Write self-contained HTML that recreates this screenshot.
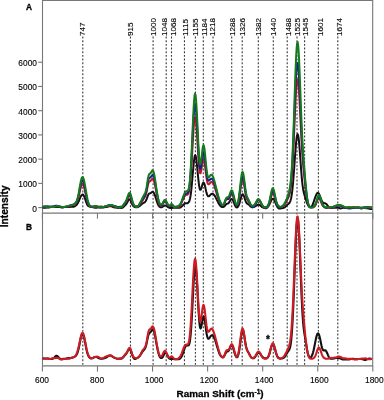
<!DOCTYPE html>
<html><head><meta charset="utf-8"><style>
html,body{margin:0;padding:0;background:#fff;width:384px;height:400px;overflow:hidden}
svg{position:absolute;left:0;top:0;will-change:transform}
text{font-family:"Liberation Sans",sans-serif;fill:#000;stroke:#000;stroke-width:0.12px}
.t{font-size:8.4px}
.l{font-size:8.1px}
.b{font-size:10px;font-weight:bold;stroke-width:0.3px}
.f{stroke:#777;stroke-width:1.1;fill:none}
.d{stroke:#3a3a3a;stroke-width:1.1;stroke-dasharray:1.9 1.7667;fill:none}
.c{fill:none;stroke-width:1.9;stroke-linejoin:round}
</style></head><body>
<svg width="384" height="400" viewBox="0 0 384 400">
<line x1="82.8" y1="36.6" x2="82.8" y2="366" class="d"/>
<line x1="130.45" y1="36.6" x2="130.45" y2="366" class="d"/>
<line x1="153.1" y1="36.6" x2="153.1" y2="366" class="d"/>
<line x1="166.2" y1="36.6" x2="166.2" y2="366" class="d"/>
<line x1="171.5" y1="36.6" x2="171.5" y2="366" class="d"/>
<line x1="184.45" y1="36.6" x2="184.45" y2="366" class="d"/>
<line x1="195.4" y1="36.6" x2="195.4" y2="366" class="d"/>
<line x1="203.3" y1="36.6" x2="203.3" y2="366" class="d"/>
<line x1="213.05" y1="36.6" x2="213.05" y2="366" class="d"/>
<line x1="231.7" y1="36.6" x2="231.7" y2="366" class="d"/>
<line x1="242.2" y1="36.6" x2="242.2" y2="366" class="d"/>
<line x1="258.3" y1="36.6" x2="258.3" y2="366" class="d"/>
<line x1="273.3" y1="36.6" x2="273.3" y2="366" class="d"/>
<line x1="287.2" y1="36.6" x2="287.2" y2="366" class="d"/>
<line x1="297.0" y1="36.6" x2="297.0" y2="366" class="d"/>
<line x1="304.6" y1="36.6" x2="304.6" y2="366" class="d"/>
<line x1="318.4" y1="36.6" x2="318.4" y2="366" class="d"/>
<line x1="337.8" y1="36.6" x2="337.8" y2="366" class="d"/>
<text x="85.1" y="35.9" transform="rotate(-90 85.1 35.9)" class="l">747</text>
<text x="132.8" y="35.9" transform="rotate(-90 132.8 35.9)" class="l">915</text>
<text x="156.10000000000002" y="35.9" transform="rotate(-90 156.10000000000002 35.9)" class="l">1000</text>
<text x="166.70000000000002" y="35.9" transform="rotate(-90 166.70000000000002 35.9)" class="l">1048</text>
<text x="175.70000000000002" y="35.9" transform="rotate(-90 175.70000000000002 35.9)" class="l">1068</text>
<text x="187.8" y="35.9" transform="rotate(-90 187.8 35.9)" class="l">1115</text>
<text x="197.8" y="35.9" transform="rotate(-90 197.8 35.9)" class="l">1155</text>
<text x="206.60000000000002" y="35.9" transform="rotate(-90 206.60000000000002 35.9)" class="l">1184</text>
<text x="215.5" y="35.9" transform="rotate(-90 215.5 35.9)" class="l">1218</text>
<text x="234.8" y="35.9" transform="rotate(-90 234.8 35.9)" class="l">1288</text>
<text x="244.8" y="35.9" transform="rotate(-90 244.8 35.9)" class="l">1326</text>
<text x="260.90000000000003" y="35.9" transform="rotate(-90 260.90000000000003 35.9)" class="l">1382</text>
<text x="275.8" y="35.9" transform="rotate(-90 275.8 35.9)" class="l">1440</text>
<text x="291.5" y="35.9" transform="rotate(-90 291.5 35.9)" class="l">1488</text>
<text x="300.3" y="35.9" transform="rotate(-90 300.3 35.9)" class="l">1525</text>
<text x="307.90000000000003" y="35.9" transform="rotate(-90 307.90000000000003 35.9)" class="l">1545</text>
<text x="323.1" y="35.9" transform="rotate(-90 323.1 35.9)" class="l">1601</text>
<text x="341.90000000000003" y="35.9" transform="rotate(-90 341.90000000000003 35.9)" class="l">1674</text>
<path d="M42.5 0.5H372.7V365.9H42.5Z" class="f"/>
<path d="M42.5 213.1H372.7" class="f"/>
<path d="M38.2 207.60H42.5" class="f"/>
<text x="37.0" y="211.50" class="t" text-anchor="end">0</text>
<path d="M38.2 183.38H42.5" class="f"/>
<text x="37.0" y="187.28" class="t" text-anchor="end">1000</text>
<path d="M38.2 159.15H42.5" class="f"/>
<text x="37.0" y="163.05" class="t" text-anchor="end">2000</text>
<path d="M38.2 134.92H42.5" class="f"/>
<text x="37.0" y="138.82" class="t" text-anchor="end">3000</text>
<path d="M38.2 110.70H42.5" class="f"/>
<text x="37.0" y="114.60" class="t" text-anchor="end">4000</text>
<path d="M38.2 86.47H42.5" class="f"/>
<text x="37.0" y="90.38" class="t" text-anchor="end">5000</text>
<path d="M38.2 62.25H42.5" class="f"/>
<text x="37.0" y="66.15" class="t" text-anchor="end">6000</text>
<path d="M42.40 365.9V371.6" class="f"/>
<path d="M42.40 213.1V218.7" class="f"/>
<text x="42.00" y="382.9" class="t" text-anchor="middle">600</text>
<path d="M97.47 365.9V371.6" class="f"/>
<path d="M97.47 213.1V218.7" class="f"/>
<text x="97.07" y="382.9" class="t" text-anchor="middle">800</text>
<path d="M152.54 365.9V371.6" class="f"/>
<path d="M152.54 213.1V218.7" class="f"/>
<text x="154.04" y="382.9" class="t" text-anchor="middle">1000</text>
<path d="M207.61 365.9V371.6" class="f"/>
<path d="M207.61 213.1V218.7" class="f"/>
<text x="209.11" y="382.9" class="t" text-anchor="middle">1200</text>
<path d="M262.68 365.9V371.6" class="f"/>
<path d="M262.68 213.1V218.7" class="f"/>
<text x="264.18" y="382.9" class="t" text-anchor="middle">1400</text>
<path d="M317.75 365.9V371.6" class="f"/>
<path d="M317.75 213.1V218.7" class="f"/>
<text x="319.25" y="382.9" class="t" text-anchor="middle">1600</text>
<path d="M372.82 365.9V371.6" class="f"/>
<path d="M372.82 213.1V218.7" class="f"/>
<text x="374.32" y="382.9" class="t" text-anchor="middle">1800</text>
<path class="c" stroke="#111111" style="stroke-width:2.0px" d="M42.6 207.70 43.1 207.73 43.6 207.73 44.1 207.73 44.6 207.73 45.1 207.74 45.6 207.73 46.1 207.69 46.6 207.63 47.1 207.58 47.6 207.55 48.1 207.53 48.6 207.51 49.1 207.46 49.6 207.36 50.1 207.23 50.6 207.11 51.1 207.03 51.6 207.00 52.1 207.01 52.6 207.04 53.1 207.07 53.6 207.07 54.1 207.07 54.6 207.07 55.1 207.07 55.6 207.06 56.1 207.04 56.6 207.00 57.1 206.97 57.6 206.97 58.1 207.00 58.6 207.04 59.1 207.07 59.6 207.08 60.1 207.05 60.6 207.03 61.1 207.01 61.6 207.00 62.1 207.00 62.6 206.99 63.1 206.97 63.6 206.95 64.1 206.94 64.6 206.94 65.1 206.96 65.6 206.98 66.1 206.98 66.6 206.98 67.1 206.98 67.6 207.00 68.1 207.01 68.6 207.00 69.1 206.98 69.6 206.93 70.1 206.88 70.6 206.83 71.1 206.79 71.6 206.78 72.1 206.80 72.6 206.84 73.1 206.85 73.6 206.79 74.1 206.63 74.6 206.37 75.1 206.05 75.6 205.69 76.1 205.29 76.6 204.81 77.1 204.23 77.6 203.51 78.1 202.63 78.6 201.59 79.1 200.41 79.6 199.17 80.1 197.96 80.6 196.84 81.1 195.89 81.6 195.15 82.1 194.68 82.6 194.54 83.1 194.76 83.6 195.35 84.1 196.27 84.6 197.48 85.1 198.88 85.6 200.39 86.1 201.89 86.6 203.26 87.1 204.41 87.6 205.26 88.1 205.83 88.6 206.20 89.1 206.44 89.6 206.63 90.1 206.80 90.6 206.94 91.1 207.03 91.6 207.07 92.1 207.09 92.6 207.12 93.1 207.19 93.6 207.32 94.1 207.46 94.6 207.57 95.1 207.65 95.6 207.69 96.1 207.70 96.6 207.67 97.1 207.60 97.6 207.51 98.1 207.43 98.6 207.39 99.1 207.39 99.6 207.42 100.1 207.45 100.6 207.44 101.1 207.43 101.6 207.42 102.1 207.45 102.6 207.49 103.1 207.51 103.6 207.48 104.1 207.37 104.6 207.22 105.1 207.09 105.6 207.02 106.1 206.99 106.6 206.96 107.1 206.89 107.6 206.77 108.1 206.60 108.6 206.42 109.1 206.26 109.6 206.16 110.1 206.12 110.6 206.14 111.1 206.23 111.6 206.38 112.1 206.57 112.6 206.78 113.1 207.00 113.6 207.20 114.1 207.35 114.6 207.46 115.1 207.51 115.6 207.54 116.1 207.59 116.6 207.68 117.1 207.80 117.6 207.94 118.1 208.04 118.6 208.09 119.1 208.09 119.6 208.05 120.1 208.00 120.6 207.97 121.1 207.97 121.6 207.95 122.1 207.86 122.6 207.65 123.1 207.28 123.6 206.80 124.1 206.27 124.6 205.76 125.1 205.27 125.6 204.79 126.1 204.26 126.6 203.59 127.1 202.75 127.6 201.77 128.1 200.76 128.6 199.88 129.1 199.33 129.6 199.23 130.1 199.65 130.6 200.51 131.1 201.67 131.6 202.94 132.1 204.14 132.6 205.15 133.1 205.91 133.6 206.41 134.1 206.73 134.6 206.92 135.1 207.06 135.6 207.18 136.1 207.26 136.6 207.28 137.1 207.23 137.6 207.09 138.1 206.89 138.6 206.63 139.1 206.35 139.6 206.02 140.1 205.65 140.6 205.23 141.1 204.76 141.6 204.28 142.1 203.83 142.6 203.45 143.1 203.14 143.6 202.90 144.1 202.65 144.6 202.34 145.1 201.89 145.6 201.24 146.1 200.34 146.6 199.17 147.1 197.81 147.6 196.39 148.1 195.13 148.6 194.20 149.1 193.64 149.6 193.37 150.1 193.23 150.6 193.04 151.1 192.73 151.6 192.35 152.1 192.01 152.6 191.85 153.1 191.97 153.6 192.43 154.1 193.23 154.6 194.37 155.1 195.78 155.6 197.38 156.1 199.05 156.6 200.69 157.1 202.20 157.6 203.54 158.1 204.67 158.6 205.57 159.1 206.26 159.6 206.75 160.1 207.07 160.6 207.25 161.1 207.30 161.6 207.23 162.1 207.04 162.6 206.75 163.1 206.41 163.6 206.08 164.1 205.79 164.6 205.58 165.1 205.48 165.6 205.50 166.1 205.65 166.6 205.93 167.1 206.31 167.6 206.72 168.1 207.12 168.6 207.46 169.1 207.71 169.6 207.89 170.1 207.99 170.6 208.03 171.1 208.02 171.6 207.97 172.1 207.89 172.6 207.82 173.1 207.78 173.6 207.77 174.1 207.80 174.6 207.84 175.1 207.87 175.6 207.85 176.1 207.79 176.6 207.71 177.1 207.65 177.6 207.64 178.1 207.68 178.6 207.74 179.1 207.78 179.6 207.73 180.1 207.55 180.6 207.26 181.1 206.88 181.6 206.44 182.1 205.99 182.6 205.53 183.1 205.06 183.6 204.59 184.1 204.14 184.6 203.75 185.1 203.46 185.6 203.29 186.1 203.24 186.6 203.25 187.1 203.25 187.6 203.16 188.1 202.90 188.6 202.41 189.1 201.58 189.6 200.27 190.1 198.30 190.6 195.49 191.1 191.76 191.6 187.11 192.1 181.71 192.6 175.83 193.1 169.89 193.6 164.38 194.1 159.80 194.6 156.63 195.1 155.20 195.6 155.64 196.1 157.86 196.6 161.59 197.1 166.37 197.6 171.66 198.1 176.95 198.6 181.73 199.1 185.60 199.6 188.30 200.1 189.69 200.6 189.84 201.1 188.97 201.6 187.44 202.1 185.65 202.6 184.01 203.1 182.89 203.6 182.57 204.1 183.15 204.6 184.57 205.1 186.58 205.6 188.88 206.1 191.14 206.6 193.12 207.1 194.65 207.6 195.67 208.1 196.22 208.6 196.34 209.1 196.14 209.6 195.71 210.1 195.16 210.6 194.62 211.1 194.18 211.6 193.89 212.1 193.78 212.6 193.83 213.1 194.02 213.6 194.35 214.1 194.85 214.6 195.53 215.1 196.37 215.6 197.33 216.1 198.35 216.6 199.39 217.1 200.42 217.6 201.43 218.1 202.41 218.6 203.33 219.1 204.17 219.6 204.93 220.1 205.58 220.6 206.11 221.1 206.51 221.6 206.78 222.1 206.95 222.6 207.03 223.1 207.01 223.6 206.86 224.1 206.57 224.6 206.11 225.1 205.52 225.6 204.89 226.1 204.33 226.6 203.93 227.1 203.72 227.6 203.61 228.1 203.44 228.6 203.08 229.1 202.45 229.6 201.60 230.1 200.67 230.6 199.81 231.1 199.18 231.6 198.92 232.1 199.08 232.6 199.69 233.1 200.67 233.6 201.91 234.1 203.24 234.6 204.52 235.1 205.64 235.6 206.53 236.1 207.12 236.6 207.42 237.1 207.41 237.6 207.11 238.1 206.51 238.6 205.61 239.1 204.39 239.6 202.86 240.1 201.09 240.6 199.20 241.1 197.38 241.6 195.85 242.1 194.78 242.6 194.30 243.1 194.47 243.6 195.25 244.1 196.51 244.6 198.05 245.1 199.65 245.6 201.09 246.1 202.24 246.6 203.05 247.1 203.57 247.6 203.91 248.1 204.18 248.6 204.50 249.1 204.91 249.6 205.41 250.1 205.94 250.6 206.43 251.1 206.81 251.6 207.05 252.1 207.16 252.6 207.16 253.1 207.08 253.6 206.97 254.1 206.81 254.6 206.61 255.1 206.36 255.6 206.07 256.1 205.73 256.6 205.39 257.1 205.05 257.6 204.76 258.1 204.57 258.6 204.53 259.1 204.66 259.6 204.97 260.1 205.39 260.6 205.87 261.1 206.33 261.6 206.73 262.1 207.07 262.6 207.35 263.1 207.57 263.6 207.74 264.1 207.87 264.6 207.99 265.1 208.11 265.6 208.19 266.1 208.18 266.6 208.03 267.1 207.70 267.6 207.22 268.1 206.63 268.6 205.92 269.1 205.09 269.6 204.12 270.1 203.03 270.6 201.87 271.1 200.75 271.6 199.77 272.1 199.06 272.6 198.68 273.1 198.68 273.6 199.07 274.1 199.81 274.6 200.82 275.1 202.00 275.6 203.23 276.1 204.42 276.6 205.51 277.1 206.45 277.6 207.23 278.1 207.82 278.6 208.24 279.1 208.48 279.6 208.58 280.1 208.57 280.6 208.49 281.1 208.38 281.6 208.27 282.1 208.19 282.6 208.13 283.1 208.04 283.6 207.90 284.1 207.69 284.6 207.38 285.1 206.98 285.6 206.50 286.1 205.98 286.6 205.46 287.1 204.99 287.6 204.57 288.1 204.20 288.6 203.81 289.1 203.33 289.6 202.64 290.1 201.65 290.6 200.22 291.1 198.24 291.6 195.57 292.1 192.08 292.6 187.69 293.1 182.39 293.6 176.25 294.1 169.47 294.6 162.33 295.1 155.19 295.6 148.48 296.1 142.61 296.6 138.03 297.1 135.11 297.6 134.10 298.1 135.12 298.6 138.07 299.1 142.72 299.6 148.66 300.1 155.43 300.6 162.50 301.1 169.38 301.6 175.67 302.1 181.08 302.6 185.52 303.1 189.01 303.6 191.71 304.1 193.82 304.6 195.57 305.1 197.15 305.6 198.67 306.1 200.19 306.6 201.67 307.1 203.06 307.6 204.28 308.1 205.30 308.6 206.11 309.1 206.71 309.6 207.10 310.1 207.28 310.6 207.23 311.1 206.96 311.6 206.47 312.1 205.73 312.6 204.73 313.1 203.50 313.6 202.09 314.1 200.61 314.6 199.14 315.1 197.70 315.6 196.34 316.1 195.10 316.6 194.05 317.1 193.29 317.6 192.90 318.1 192.90 318.6 193.31 319.1 194.09 319.6 195.18 320.1 196.50 320.6 197.91 321.1 199.26 321.6 200.44 322.1 201.39 322.6 202.10 323.1 202.62 323.6 202.97 324.1 203.16 324.6 203.27 325.1 203.35 325.6 203.52 326.1 203.83 326.6 204.31 327.1 204.92 327.6 205.59 328.1 206.25 328.6 206.81 329.1 207.25 329.6 207.56 330.1 207.77 330.6 207.91 331.1 208.00 331.6 208.03 332.1 208.01 332.6 207.95 333.1 207.88 333.6 207.84 334.1 207.83 334.6 207.85 335.1 207.86 335.6 207.83 336.1 207.77 336.6 207.70 337.1 207.65 337.6 207.65 338.1 207.72 338.6 207.85 339.1 208.02 339.6 208.19 340.1 208.33 340.6 208.39 341.1 208.36 341.6 208.25 342.1 208.08 342.6 207.90 343.1 207.75 343.6 207.67 344.1 207.65 344.6 207.71 345.1 207.80 345.6 207.90 346.1 208.00 346.6 208.07 347.1 208.14 347.6 208.22 348.1 208.30 348.6 208.37 349.1 208.41 349.6 208.42 350.1 208.40 350.6 208.35 351.1 208.29 351.6 208.22 352.1 208.14 352.6 208.06 353.1 207.99 353.6 207.96 354.1 207.97 354.6 207.98 355.1 207.98 355.6 207.94 356.1 207.86 356.6 207.75 357.1 207.66 357.6 207.60 358.1 207.60 358.6 207.66 359.1 207.78 359.6 207.94 360.1 208.13 360.6 208.30 361.1 208.42 361.6 208.42 362.1 208.32 362.6 208.12 363.1 207.90 363.6 207.73 364.1 207.67 364.6 207.73 365.1 207.89 365.6 208.08 366.1 208.23 366.6 208.30 367.1 208.32 367.6 208.33 368.1 208.38 368.6 208.50 369.1 208.68 369.6 208.86 370.1 208.99 370.6 209.05 371.1 209.01 371.6 208.92 372.1 208.79"/>
<path class="c" stroke="#c41a26" style="stroke-width:2.0px" d="M42.6 206.67 43.1 206.70 43.6 206.74 44.1 206.76 44.6 206.74 45.1 206.69 45.6 206.62 46.1 206.55 46.6 206.51 47.1 206.52 47.6 206.57 48.1 206.66 48.6 206.79 49.1 206.92 49.6 207.01 50.1 207.04 50.6 207.01 51.1 206.96 51.6 206.90 52.1 206.84 52.6 206.78 53.1 206.67 53.6 206.53 54.1 206.37 54.6 206.24 55.1 206.16 55.6 206.13 56.1 206.15 56.6 206.17 57.1 206.20 57.6 206.24 58.1 206.29 58.6 206.38 59.1 206.50 59.6 206.64 60.1 206.78 60.6 206.90 61.1 207.02 61.6 207.12 62.1 207.20 62.6 207.25 63.1 207.26 63.6 207.22 64.1 207.13 64.6 207.02 65.1 206.90 65.6 206.80 66.1 206.72 66.6 206.67 67.1 206.64 67.6 206.62 68.1 206.58 68.6 206.51 69.1 206.39 69.6 206.21 70.1 205.95 70.6 205.65 71.1 205.36 71.6 205.14 72.1 205.04 72.6 205.04 73.1 205.10 73.6 205.12 74.1 205.02 74.6 204.76 75.1 204.30 75.6 203.67 76.1 202.88 76.6 201.93 77.1 200.84 77.6 199.57 78.1 198.10 78.6 196.43 79.1 194.55 79.6 192.52 80.1 190.41 80.6 188.37 81.1 186.55 81.6 185.12 82.1 184.23 82.6 184.00 83.1 184.44 83.6 185.53 84.1 187.15 84.6 189.16 85.1 191.41 85.6 193.77 86.1 196.10 86.6 198.32 87.1 200.32 87.6 202.03 88.1 203.44 88.6 204.53 89.1 205.33 89.6 205.89 90.1 206.25 90.6 206.47 91.1 206.59 91.6 206.69 92.1 206.79 92.6 206.92 93.1 207.07 93.6 207.20 94.1 207.29 94.6 207.31 95.1 207.29 95.6 207.22 96.1 207.14 96.6 207.08 97.1 207.02 97.6 206.98 98.1 206.93 98.6 206.86 99.1 206.74 99.6 206.60 100.1 206.47 100.6 206.39 101.1 206.41 101.6 206.53 102.1 206.70 102.6 206.85 103.1 206.93 103.6 206.92 104.1 206.82 104.6 206.67 105.1 206.50 105.6 206.35 106.1 206.24 106.6 206.15 107.1 206.05 107.6 205.95 108.1 205.83 108.6 205.71 109.1 205.61 109.6 205.55 110.1 205.53 110.6 205.54 111.1 205.58 111.6 205.65 112.1 205.76 112.6 205.93 113.1 206.12 113.6 206.30 114.1 206.44 114.6 206.52 115.1 206.56 115.6 206.60 116.1 206.67 116.6 206.78 117.1 206.91 117.6 207.06 118.1 207.20 118.6 207.35 119.1 207.46 119.6 207.53 120.1 207.51 120.6 207.42 121.1 207.24 121.6 206.97 122.1 206.60 122.6 206.13 123.1 205.55 123.6 204.90 124.1 204.24 124.6 203.61 125.1 203.03 125.6 202.43 126.1 201.71 126.6 200.80 127.1 199.68 127.6 198.43 128.1 197.19 128.6 196.17 129.1 195.57 129.6 195.55 130.1 196.14 130.6 197.26 131.1 198.73 131.6 200.35 132.1 201.93 132.6 203.33 133.1 204.47 133.6 205.31 134.1 205.84 134.6 206.14 135.1 206.26 135.6 206.27 136.1 206.24 136.6 206.17 137.1 206.10 137.6 205.99 138.1 205.83 138.6 205.59 139.1 205.23 139.6 204.76 140.1 204.19 140.6 203.54 141.1 202.85 141.6 202.13 142.1 201.39 142.6 200.62 143.1 199.80 143.6 198.95 144.1 198.11 144.6 197.28 145.1 196.39 145.6 195.31 146.1 193.83 146.6 191.82 147.1 189.36 147.6 186.73 148.1 184.40 148.6 182.73 149.1 181.81 149.6 181.43 150.1 181.21 150.6 180.83 151.1 180.20 151.6 179.46 152.1 178.86 152.6 178.65 153.1 178.99 153.6 179.93 154.1 181.42 154.6 183.41 155.1 185.78 155.6 188.40 156.1 191.14 156.6 193.88 157.1 196.49 157.6 198.87 158.1 200.93 158.6 202.61 159.1 203.90 159.6 204.82 160.1 205.42 160.6 205.73 161.1 205.76 161.6 205.51 162.1 204.99 162.6 204.27 163.1 203.46 163.6 202.69 164.1 202.10 164.6 201.79 165.1 201.80 165.6 202.10 166.1 202.62 166.6 203.26 167.1 203.97 167.6 204.67 168.1 205.32 168.6 205.84 169.1 206.15 169.6 206.19 170.1 205.97 170.6 205.58 171.1 205.22 171.6 205.09 172.1 205.29 172.6 205.76 173.1 206.32 173.6 206.79 174.1 207.08 174.6 207.18 175.1 207.17 175.6 207.12 176.1 207.09 176.6 207.11 177.1 207.20 177.6 207.31 178.1 207.34 178.6 207.23 179.1 206.90 179.6 206.33 180.1 205.56 180.6 204.63 181.1 203.60 181.6 202.50 182.1 201.35 182.6 200.19 183.1 199.06 183.6 198.01 184.1 197.06 184.6 196.26 185.1 195.62 185.6 195.18 186.1 194.94 186.6 194.84 187.1 194.79 187.6 194.61 188.1 194.10 188.6 192.99 189.1 191.03 189.6 188.00 190.1 183.73 190.6 178.12 191.1 171.21 191.6 163.18 192.1 154.36 192.6 145.25 193.1 136.46 193.6 128.67 194.1 122.54 194.6 118.63 195.1 117.31 195.6 118.71 196.1 122.68 196.6 128.80 197.1 136.47 197.6 144.90 198.1 153.29 198.6 160.86 199.1 166.97 199.6 171.16 200.1 173.22 200.6 173.18 201.1 171.37 201.6 168.37 202.1 164.93 202.6 161.87 203.1 159.87 203.6 159.39 204.1 160.56 204.6 163.20 205.1 166.89 205.6 171.06 206.1 175.15 206.6 178.70 207.1 181.41 207.6 183.19 208.1 184.12 208.6 184.36 209.1 184.11 209.6 183.59 210.1 182.97 210.6 182.42 211.1 182.06 211.6 181.97 212.1 182.16 212.6 182.63 213.1 183.35 213.6 184.32 214.1 185.53 214.6 186.95 215.1 188.53 215.6 190.18 216.1 191.83 216.6 193.42 217.1 194.94 217.6 196.41 218.1 197.82 218.6 199.16 219.1 200.39 219.6 201.49 220.1 202.43 220.6 203.23 221.1 203.88 221.6 204.41 222.1 204.81 222.6 205.04 223.1 205.02 223.6 204.65 224.1 203.89 224.6 202.75 225.1 201.40 225.6 200.10 226.1 199.13 226.6 198.68 227.1 198.71 227.6 199.01 228.1 199.24 228.6 199.12 229.1 198.52 229.6 197.50 230.1 196.27 230.6 195.07 231.1 194.14 231.6 193.70 232.1 193.86 232.6 194.67 233.1 196.02 233.6 197.73 234.1 199.54 234.6 201.24 235.1 202.69 235.6 203.83 236.1 204.62 236.6 205.03 237.1 204.97 237.6 204.37 238.1 203.13 238.6 201.20 239.1 198.59 239.6 195.42 240.1 191.86 240.6 188.21 241.1 184.83 241.6 182.07 242.1 180.29 242.6 179.70 243.1 180.39 243.6 182.23 244.1 184.92 244.6 188.08 245.1 191.26 245.6 194.11 246.1 196.43 246.6 198.15 247.1 199.38 247.6 200.28 248.1 201.03 248.6 201.77 249.1 202.54 249.6 203.35 250.1 204.15 250.6 204.87 251.1 205.47 251.6 205.91 252.1 206.16 252.6 206.22 253.1 206.13 253.6 205.89 254.1 205.52 254.6 205.01 255.1 204.36 255.6 203.60 256.1 202.75 256.6 201.88 257.1 201.07 257.6 200.41 258.1 200.00 258.6 199.89 259.1 200.12 259.6 200.65 260.1 201.43 260.6 202.37 261.1 203.35 261.6 204.31 262.1 205.16 262.6 205.89 263.1 206.47 263.6 206.91 264.1 207.21 264.6 207.37 265.1 207.41 265.6 207.35 266.1 207.20 266.6 207.00 267.1 206.72 267.6 206.32 268.1 205.75 268.6 204.93 269.1 203.80 269.6 202.35 270.1 200.63 270.6 198.73 271.1 196.82 271.6 195.10 272.1 193.77 272.6 193.03 273.1 192.99 273.6 193.68 274.1 194.96 274.6 196.63 275.1 198.47 275.6 200.30 276.1 201.97 276.6 203.41 277.1 204.56 277.6 205.43 278.1 206.03 278.6 206.43 279.1 206.68 279.6 206.85 280.1 206.96 280.6 207.01 281.1 206.97 281.6 206.84 282.1 206.63 282.6 206.35 283.1 206.03 283.6 205.66 284.1 205.22 284.6 204.67 285.1 203.99 285.6 203.17 286.1 202.23 286.6 201.21 287.1 200.15 287.6 199.07 288.1 197.98 288.6 196.85 289.1 195.59 289.6 194.05 290.1 192.00 290.6 189.14 291.1 185.21 291.6 179.98 292.1 173.30 292.6 165.16 293.1 155.66 293.6 145.01 294.1 133.59 294.6 121.87 295.1 110.44 295.6 99.95 296.1 91.05 296.6 84.36 297.1 80.35 297.6 79.34 298.1 81.37 298.6 86.26 299.1 93.56 299.6 102.63 300.1 112.72 300.6 123.12 301.1 133.20 301.6 142.49 302.1 150.74 302.6 157.91 303.1 164.14 303.6 169.67 304.1 174.73 304.6 179.52 305.1 184.14 305.6 188.55 306.1 192.67 306.6 196.35 307.1 199.46 307.6 201.95 308.1 203.83 308.6 205.16 309.1 206.05 309.6 206.61 310.1 206.94 310.6 207.12 311.1 207.20 311.6 207.24 312.1 207.25 312.6 207.26 313.1 207.24 313.6 207.14 314.1 206.88 314.6 206.40 315.1 205.69 315.6 204.74 316.1 203.59 316.6 202.30 317.1 200.97 317.6 199.76 318.1 198.85 318.6 198.36 319.1 198.38 319.6 198.88 320.1 199.77 320.6 200.91 321.1 202.16 321.6 203.39 322.1 204.49 322.6 205.39 323.1 206.09 323.6 206.63 324.1 207.08 324.6 207.45 325.1 207.74 325.6 207.91 326.1 207.95 326.6 207.86 327.1 207.68 327.6 207.48 328.1 207.30 328.6 207.19 329.1 207.16 329.6 207.18 330.1 207.25 330.6 207.35 331.1 207.47 331.6 207.62 332.1 207.74 332.6 207.80 333.1 207.76 333.6 207.60 334.1 207.34 334.6 207.04 335.1 206.71 335.6 206.41 336.1 206.14 336.6 205.90 337.1 205.69 337.6 205.52 338.1 205.39 338.6 205.29 339.1 205.24 339.6 205.24 340.1 205.30 340.6 205.43 341.1 205.64 341.6 205.93 342.1 206.26 342.6 206.59 343.1 206.88 343.6 207.11 344.1 207.29 344.6 207.43 345.1 207.53 345.6 207.58 346.1 207.58 346.6 207.52 347.1 207.41 347.6 207.29 348.1 207.20 348.6 207.18 349.1 207.23 349.6 207.30 350.1 207.36 350.6 207.36 351.1 207.32 351.6 207.26 352.1 207.20 352.6 207.16 353.1 207.14 353.6 207.12 354.1 207.11 354.6 207.11 355.1 207.14 355.6 207.21 356.1 207.29 356.6 207.40 357.1 207.49 357.6 207.55 358.1 207.57 358.6 207.55 359.1 207.56 359.6 207.62 360.1 207.72 360.6 207.84 361.1 207.92 361.6 207.94 362.1 207.91 362.6 207.87 363.1 207.83 363.6 207.82 364.1 207.81 364.6 207.78 365.1 207.70 365.6 207.56 366.1 207.38 366.6 207.20 367.1 207.07 367.6 207.02 368.1 207.04 368.6 207.10 369.1 207.15 369.6 207.18 370.1 207.19 370.6 207.21 371.1 207.28 371.6 207.39 372.1 207.55"/>
<path class="c" stroke="#14228a" style="stroke-width:2.0px" d="M42.6 206.62 43.1 206.70 43.6 206.76 44.1 206.78 44.6 206.75 45.1 206.68 45.6 206.60 46.1 206.53 46.6 206.48 47.1 206.47 47.6 206.48 48.1 206.49 48.6 206.49 49.1 206.46 49.6 206.42 50.1 206.39 50.6 206.40 51.1 206.45 51.6 206.52 52.1 206.57 52.6 206.58 53.1 206.51 53.6 206.38 54.1 206.21 54.6 206.02 55.1 205.85 55.6 205.72 56.1 205.66 56.6 205.68 57.1 205.77 57.6 205.91 58.1 206.07 58.6 206.25 59.1 206.45 59.6 206.69 60.1 206.95 60.6 207.22 61.1 207.43 61.6 207.55 62.1 207.56 62.6 207.48 63.1 207.36 63.6 207.23 64.1 207.12 64.6 207.03 65.1 206.95 65.6 206.88 66.1 206.79 66.6 206.69 67.1 206.59 67.6 206.46 68.1 206.32 68.6 206.15 69.1 205.95 69.6 205.74 70.1 205.54 70.6 205.36 71.1 205.21 71.6 205.07 72.1 204.92 72.6 204.75 73.1 204.57 73.6 204.37 74.1 204.14 74.6 203.88 75.1 203.55 75.6 203.10 76.1 202.50 76.6 201.67 77.1 200.55 77.6 199.08 78.1 197.24 78.6 195.06 79.1 192.62 79.6 190.06 80.1 187.52 80.6 185.15 81.1 183.10 81.6 181.52 82.1 180.56 82.6 180.34 83.1 180.90 83.6 182.22 84.1 184.18 84.6 186.60 85.1 189.29 85.6 192.05 86.1 194.74 86.6 197.22 87.1 199.41 87.6 201.25 88.1 202.73 88.6 203.88 89.1 204.75 89.6 205.41 90.1 205.91 90.6 206.30 91.1 206.59 91.6 206.76 92.1 206.81 92.6 206.75 93.1 206.61 93.6 206.43 94.1 206.27 94.6 206.15 95.1 206.11 95.6 206.14 96.1 206.22 96.6 206.35 97.1 206.49 97.6 206.66 98.1 206.82 98.6 206.98 99.1 207.11 99.6 207.21 100.1 207.25 100.6 207.23 101.1 207.17 101.6 207.10 102.1 207.05 102.6 207.04 103.1 207.04 103.6 207.03 104.1 206.98 104.6 206.89 105.1 206.76 105.6 206.61 106.1 206.41 106.6 206.18 107.1 205.92 107.6 205.66 108.1 205.46 108.6 205.32 109.1 205.25 109.6 205.22 110.1 205.21 110.6 205.23 111.1 205.29 111.6 205.40 112.1 205.56 112.6 205.73 113.1 205.88 113.6 205.99 114.1 206.06 114.6 206.11 115.1 206.20 115.6 206.32 116.1 206.50 116.6 206.69 117.1 206.88 117.6 207.00 118.1 207.05 118.6 207.02 119.1 206.95 119.6 206.87 120.1 206.82 120.6 206.80 121.1 206.79 121.6 206.73 122.1 206.56 122.6 206.25 123.1 205.75 123.6 205.10 124.1 204.35 124.6 203.56 125.1 202.78 125.6 202.01 126.1 201.18 126.6 200.20 127.1 199.03 127.6 197.69 128.1 196.35 128.6 195.20 129.1 194.47 129.6 194.32 130.1 194.79 130.6 195.83 131.1 197.28 131.6 198.97 132.1 200.70 132.6 202.30 133.1 203.67 133.6 204.77 134.1 205.61 134.6 206.20 135.1 206.57 135.6 206.77 136.1 206.85 136.6 206.85 137.1 206.78 137.6 206.61 138.1 206.31 138.6 205.84 139.1 205.21 139.6 204.45 140.1 203.59 140.6 202.71 141.1 201.85 141.6 201.03 142.1 200.26 142.6 199.50 143.1 198.73 143.6 197.95 144.1 197.13 144.6 196.24 145.1 195.18 145.6 193.82 146.1 191.99 146.6 189.60 147.1 186.75 147.6 183.76 148.1 181.11 148.6 179.20 149.1 178.14 149.6 177.73 150.1 177.55 150.6 177.23 151.1 176.65 151.6 175.89 152.1 175.24 152.6 174.95 153.1 175.23 153.6 176.14 154.1 177.69 154.6 179.81 155.1 182.40 155.6 185.31 156.1 188.36 156.6 191.38 157.1 194.23 157.6 196.83 158.1 199.12 158.6 201.07 159.1 202.67 159.6 203.91 160.1 204.80 160.6 205.33 161.1 205.50 161.6 205.29 162.1 204.74 162.6 203.95 163.1 203.02 163.6 202.12 164.1 201.41 164.6 200.98 165.1 200.90 165.6 201.17 166.1 201.76 166.6 202.59 167.1 203.54 167.6 204.48 168.1 205.30 168.6 205.90 169.1 206.18 169.6 206.12 170.1 205.74 170.6 205.19 171.1 204.71 171.6 204.51 172.1 204.71 172.6 205.21 173.1 205.81 173.6 206.32 174.1 206.64 174.6 206.78 175.1 206.82 175.6 206.83 176.1 206.82 176.6 206.80 177.1 206.73 177.6 206.61 178.1 206.41 178.6 206.12 179.1 205.75 179.6 205.27 180.1 204.65 180.6 203.88 181.1 202.94 181.6 201.84 182.1 200.63 182.6 199.33 183.1 198.00 183.6 196.73 184.1 195.60 184.6 194.70 185.1 194.09 185.6 193.75 186.1 193.62 186.6 193.58 187.1 193.48 187.6 193.13 188.1 192.35 188.6 190.91 189.1 188.56 189.6 185.04 190.1 180.13 190.6 173.72 191.1 165.84 191.6 156.71 192.1 146.74 192.6 136.45 193.1 126.53 193.6 117.70 194.1 110.70 194.6 106.16 195.1 104.51 195.6 105.93 196.1 110.29 196.6 117.16 197.1 125.85 197.6 135.51 198.1 145.20 198.6 154.01 199.1 161.19 199.6 166.17 200.1 168.70 200.6 168.83 201.1 166.92 201.6 163.60 202.1 159.71 202.6 156.12 203.1 153.62 203.6 152.76 204.1 153.75 204.6 156.45 205.1 160.41 205.6 165.02 206.1 169.62 206.6 173.69 207.1 176.89 207.6 179.07 208.1 180.28 208.6 180.67 209.1 180.50 209.6 180.02 210.1 179.47 210.6 179.00 211.1 178.72 211.6 178.70 212.1 178.97 212.6 179.51 213.1 180.32 213.6 181.38 214.1 182.65 214.6 184.11 215.1 185.71 215.6 187.44 216.1 189.31 216.6 191.28 217.1 193.31 217.6 195.30 218.1 197.14 218.6 198.76 219.1 200.15 219.6 201.34 220.1 202.38 220.6 203.31 221.1 204.11 221.6 204.76 222.1 205.22 222.6 205.41 223.1 205.28 223.6 204.78 224.1 203.90 224.6 202.73 225.1 201.43 225.6 200.22 226.1 199.33 226.6 198.87 227.1 198.81 227.6 198.93 228.1 198.94 228.6 198.59 229.1 197.77 229.6 196.53 230.1 195.08 230.6 193.70 231.1 192.68 231.6 192.25 232.1 192.50 232.6 193.42 233.1 194.91 233.6 196.77 234.1 198.78 234.6 200.72 235.1 202.41 235.6 203.73 236.1 204.63 236.6 205.05 237.1 204.94 237.6 204.22 238.1 202.80 238.6 200.63 239.1 197.73 239.6 194.18 240.1 190.17 240.6 186.03 241.1 182.15 241.6 178.99 242.1 176.96 242.6 176.30 243.1 177.08 243.6 179.14 244.1 182.16 244.6 185.69 245.1 189.24 245.6 192.42 246.1 194.97 246.6 196.84 247.1 198.12 247.6 199.04 248.1 199.83 248.6 200.66 249.1 201.62 249.6 202.69 250.1 203.79 250.6 204.83 251.1 205.72 251.6 206.42 252.1 206.90 252.6 207.15 253.1 207.16 253.6 206.93 254.1 206.46 254.6 205.78 255.1 204.94 255.6 203.99 256.1 203.01 256.6 202.02 257.1 201.11 257.6 200.36 258.1 199.85 258.6 199.68 259.1 199.87 259.6 200.40 260.1 201.20 260.6 202.18 261.1 203.20 261.6 204.19 262.1 205.07 262.6 205.83 263.1 206.44 263.6 206.92 264.1 207.27 264.6 207.50 265.1 207.63 265.6 207.64 266.1 207.53 266.6 207.26 267.1 206.81 267.6 206.19 268.1 205.37 268.6 204.32 269.1 202.98 269.6 201.32 270.1 199.36 270.6 197.22 271.1 195.08 271.6 193.19 272.1 191.78 272.6 191.05 273.1 191.08 273.6 191.86 274.1 193.30 274.6 195.18 275.1 197.29 275.6 199.39 276.1 201.32 276.6 202.97 277.1 204.33 277.6 205.44 278.1 206.31 278.6 206.95 279.1 207.36 279.6 207.55 280.1 207.55 280.6 207.41 281.1 207.17 281.6 206.86 282.1 206.49 282.6 206.05 283.1 205.54 283.6 204.97 284.1 204.34 284.6 203.64 285.1 202.85 285.6 201.97 286.1 201.00 286.6 199.94 287.1 198.83 287.6 197.69 288.1 196.50 288.6 195.18 289.1 193.61 289.6 191.63 290.1 189.03 290.6 185.60 291.1 181.08 291.6 175.22 292.1 167.79 292.6 158.71 293.1 148.04 293.6 136.04 294.1 123.13 294.6 109.86 295.1 96.93 295.6 85.10 296.1 75.16 296.6 67.81 297.1 63.57 297.6 62.70 298.1 65.21 298.6 70.82 299.1 79.03 299.6 89.18 300.1 100.49 300.6 112.19 301.1 123.54 301.6 134.02 302.1 143.31 302.6 151.40 303.1 158.43 303.6 164.68 304.1 170.42 304.6 175.85 305.1 181.10 305.6 186.14 306.1 190.86 306.6 195.09 307.1 198.65 307.6 201.49 308.1 203.63 308.6 205.15 309.1 206.17 309.6 206.79 310.1 207.09 310.6 207.17 311.1 207.11 311.6 206.99 312.1 206.86 312.6 206.72 313.1 206.55 313.6 206.33 314.1 206.02 314.6 205.57 315.1 204.92 315.6 204.00 316.1 202.79 316.6 201.36 317.1 199.85 317.6 198.45 318.1 197.38 318.6 196.80 319.1 196.77 319.6 197.30 320.1 198.26 320.6 199.51 321.1 200.88 321.6 202.24 322.1 203.48 322.6 204.54 323.1 205.40 323.6 206.07 324.1 206.55 324.6 206.91 325.1 207.16 325.6 207.36 326.1 207.50 326.6 207.61 327.1 207.66 327.6 207.67 328.1 207.65 328.6 207.61 329.1 207.58 329.6 207.55 330.1 207.55 330.6 207.56 331.1 207.58 331.6 207.59 332.1 207.53 332.6 207.40 333.1 207.18 333.6 206.91 334.1 206.60 334.6 206.31 335.1 206.07 335.6 205.88 336.1 205.74 336.6 205.63 337.1 205.55 337.6 205.48 338.1 205.45 338.6 205.48 339.1 205.58 339.6 205.71 340.1 205.84 340.6 205.93 341.1 205.98 341.6 206.04 342.1 206.15 342.6 206.35 343.1 206.64 343.6 206.98 344.1 207.34 344.6 207.65 345.1 207.87 345.6 207.98 346.1 207.99 346.6 207.93 347.1 207.85 347.6 207.78 348.1 207.73 348.6 207.73 349.1 207.76 349.6 207.83 350.1 207.90 350.6 207.96 351.1 207.97 351.6 207.94 352.1 207.89 352.6 207.83 353.1 207.81 353.6 207.85 354.1 207.92 354.6 207.99 355.1 207.99 355.6 207.92 356.1 207.78 356.6 207.63 357.1 207.53 357.6 207.51 358.1 207.57 358.6 207.67 359.1 207.78 359.6 207.85 360.1 207.88 360.6 207.87 361.1 207.85 361.6 207.82 362.1 207.80 362.6 207.76 363.1 207.69 363.6 207.58 364.1 207.44 364.6 207.32 365.1 207.27 365.6 207.27 366.1 207.32 366.6 207.35 367.1 207.37 367.6 207.38 368.1 207.39 368.6 207.43 369.1 207.50 369.6 207.58 370.1 207.64 370.6 207.66 371.1 207.63 371.6 207.56 372.1 207.47"/>
<path class="c" stroke="#157a1c" style="stroke-width:2.0px" d="M42.6 206.97 43.1 206.78 43.6 206.61 44.1 206.51 44.6 206.47 45.1 206.51 45.6 206.63 46.1 206.79 46.6 206.96 47.1 207.10 47.6 207.18 48.1 207.21 48.6 207.20 49.1 207.14 49.6 207.07 50.1 206.99 50.6 206.93 51.1 206.91 51.6 206.92 52.1 206.94 52.6 206.96 53.1 206.95 53.6 206.91 54.1 206.82 54.6 206.69 55.1 206.52 55.6 206.33 56.1 206.16 56.6 206.05 57.1 206.02 57.6 206.05 58.1 206.11 58.6 206.16 59.1 206.20 59.6 206.26 60.1 206.36 60.6 206.51 61.1 206.69 61.6 206.88 62.1 207.03 62.6 207.12 63.1 207.15 63.6 207.10 64.1 206.99 64.6 206.84 65.1 206.68 65.6 206.53 66.1 206.41 66.6 206.30 67.1 206.20 67.6 206.09 68.1 205.99 68.6 205.89 69.1 205.78 69.6 205.66 70.1 205.52 70.6 205.39 71.1 205.25 71.6 205.11 72.1 204.96 72.6 204.79 73.1 204.59 73.6 204.37 74.1 204.11 74.6 203.79 75.1 203.40 75.6 202.89 76.1 202.19 76.6 201.24 77.1 199.97 77.6 198.31 78.1 196.24 78.6 193.77 79.1 190.98 79.6 188.01 80.1 185.05 80.6 182.32 81.1 180.01 81.6 178.29 82.1 177.27 82.6 177.02 83.1 177.54 83.6 178.79 84.1 180.67 84.6 183.06 85.1 185.81 85.6 188.76 86.1 191.73 86.6 194.60 87.1 197.26 87.6 199.64 88.1 201.68 88.6 203.33 89.1 204.58 89.6 205.44 90.1 205.96 90.6 206.24 91.1 206.39 91.6 206.48 92.1 206.56 92.6 206.63 93.1 206.66 93.6 206.62 94.1 206.51 94.6 206.33 95.1 206.16 95.6 206.05 96.1 206.04 96.6 206.12 97.1 206.28 97.6 206.46 98.1 206.62 98.6 206.76 99.1 206.88 99.6 206.99 100.1 207.09 100.6 207.19 101.1 207.27 101.6 207.31 102.1 207.29 102.6 207.19 103.1 207.04 103.6 206.83 104.1 206.61 104.6 206.39 105.1 206.22 105.6 206.08 106.1 205.99 106.6 205.92 107.1 205.86 107.6 205.79 108.1 205.71 108.6 205.60 109.1 205.47 109.6 205.30 110.1 205.12 110.6 204.97 111.1 204.88 111.6 204.88 112.1 204.98 112.6 205.15 113.1 205.38 113.6 205.64 114.1 205.91 114.6 206.16 115.1 206.41 115.6 206.66 116.1 206.94 116.6 207.21 117.1 207.45 117.6 207.61 118.1 207.65 118.6 207.62 119.1 207.53 119.6 207.43 120.1 207.32 120.6 207.20 121.1 207.05 121.6 206.85 122.1 206.56 122.6 206.15 123.1 205.59 123.6 204.90 124.1 204.12 124.6 203.32 125.1 202.54 125.6 201.73 126.1 200.82 126.6 199.71 127.1 198.35 127.6 196.81 128.1 195.26 128.6 193.93 129.1 193.05 129.6 192.80 130.1 193.27 130.6 194.40 131.1 196.04 131.6 197.96 132.1 199.95 132.6 201.78 133.1 203.32 133.6 204.50 134.1 205.34 134.6 205.93 135.1 206.36 135.6 206.68 136.1 206.92 136.6 207.03 137.1 206.94 137.6 206.63 138.1 206.10 138.6 205.39 139.1 204.57 139.6 203.68 140.1 202.76 140.6 201.81 141.1 200.84 141.6 199.83 142.1 198.80 142.6 197.76 143.1 196.74 143.6 195.76 144.1 194.82 144.6 193.88 145.1 192.83 145.6 191.49 146.1 189.65 146.6 187.15 147.1 184.07 147.6 180.75 148.1 177.74 148.6 175.53 149.1 174.28 149.6 173.76 150.1 173.50 150.6 173.09 151.1 172.37 151.6 171.48 152.1 170.71 152.6 170.39 153.1 170.75 153.6 171.90 154.1 173.83 154.6 176.44 155.1 179.57 155.6 183.01 156.1 186.53 156.6 189.91 157.1 193.03 157.6 195.82 158.1 198.26 158.6 200.33 159.1 202.01 159.6 203.28 160.1 204.14 160.6 204.61 161.1 204.71 161.6 204.48 162.1 203.95 162.6 203.20 163.1 202.29 163.6 201.35 164.1 200.55 164.6 200.02 165.1 199.91 165.6 200.25 166.1 200.98 166.6 201.98 167.1 203.06 167.6 204.07 168.1 204.88 168.6 205.43 169.1 205.66 169.6 205.57 170.1 205.17 170.6 204.61 171.1 204.14 171.6 204.00 172.1 204.30 172.6 204.96 173.1 205.74 173.6 206.42 174.1 206.88 174.6 207.13 175.1 207.20 175.6 207.14 176.1 206.96 176.6 206.71 177.1 206.46 177.6 206.25 178.1 206.09 178.6 205.92 179.1 205.67 179.6 205.26 180.1 204.63 180.6 203.75 181.1 202.63 181.6 201.31 182.1 199.87 182.6 198.39 183.1 196.93 183.6 195.54 184.1 194.26 184.6 193.15 185.1 192.25 185.6 191.63 186.1 191.28 186.6 191.15 187.1 191.11 187.6 190.94 188.1 190.39 188.6 189.15 189.1 186.88 189.6 183.28 190.1 178.10 190.6 171.18 191.1 162.54 191.6 152.37 192.1 141.12 192.6 129.44 193.1 118.17 193.6 108.19 194.1 100.33 194.6 95.31 195.1 93.59 195.6 95.33 196.1 100.34 196.6 108.10 197.1 117.82 197.6 128.51 198.1 139.16 198.6 148.75 199.1 156.45 199.6 161.65 200.1 164.08 200.6 163.79 201.1 161.21 201.6 157.12 202.1 152.51 202.6 148.42 203.1 145.75 203.6 145.06 204.1 146.49 204.6 149.82 205.1 154.51 205.6 159.86 206.1 165.16 206.6 169.83 207.1 173.48 207.6 175.92 208.1 177.21 208.6 177.53 209.1 177.19 209.6 176.49 210.1 175.73 210.6 175.12 211.1 174.79 211.6 174.80 212.1 175.16 212.6 175.88 213.1 176.95 213.6 178.33 214.1 179.98 214.6 181.82 215.1 183.79 215.6 185.79 216.1 187.78 216.6 189.72 217.1 191.61 217.6 193.48 218.1 195.29 218.6 197.03 219.1 198.64 219.6 200.10 220.1 201.39 220.6 202.52 221.1 203.47 221.6 204.23 222.1 204.75 222.6 204.99 223.1 204.90 223.6 204.44 224.1 203.58 224.6 202.37 225.1 200.94 225.6 199.49 226.1 198.30 226.6 197.55 227.1 197.26 227.6 197.24 228.1 197.17 228.6 196.77 229.1 195.90 229.6 194.62 230.1 193.13 230.6 191.73 231.1 190.70 231.6 190.26 232.1 190.54 232.6 191.55 233.1 193.19 233.6 195.26 234.1 197.50 234.6 199.65 235.1 201.53 235.6 203.04 236.1 204.08 236.6 204.56 237.1 204.38 237.6 203.43 238.1 201.67 238.6 199.07 239.1 195.69 239.6 191.64 240.1 187.15 240.6 182.53 241.1 178.25 241.6 174.79 242.1 172.57 242.6 171.89 243.1 172.82 243.6 175.19 244.1 178.64 244.6 182.66 245.1 186.71 245.6 190.34 246.1 193.27 246.6 195.44 247.1 196.97 247.6 198.07 248.1 199.01 248.6 199.98 249.1 201.06 249.6 202.20 250.1 203.32 250.6 204.29 251.1 205.04 251.6 205.54 252.1 205.81 252.6 205.86 253.1 205.75 253.6 205.50 254.1 205.11 254.6 204.59 255.1 203.92 255.6 203.09 256.1 202.13 256.6 201.12 257.1 200.19 257.6 199.49 258.1 199.13 258.6 199.13 259.1 199.49 259.6 200.14 260.1 201.00 260.6 201.99 261.1 203.04 261.6 204.07 262.1 205.00 262.6 205.80 263.1 206.43 263.6 206.88 264.1 207.17 264.6 207.33 265.1 207.40 265.6 207.42 266.1 207.37 266.6 207.20 267.1 206.86 267.6 206.28 268.1 205.38 268.6 204.11 269.1 202.45 269.6 200.39 270.1 198.03 270.6 195.49 271.1 193.01 271.6 190.82 272.1 189.19 272.6 188.34 273.1 188.41 273.6 189.38 274.1 191.14 274.6 193.45 275.1 196.01 275.6 198.53 276.1 200.77 276.6 202.58 277.1 203.92 277.6 204.87 278.1 205.54 278.6 206.04 279.1 206.43 279.6 206.71 280.1 206.87 280.6 206.87 281.1 206.74 281.6 206.50 282.1 206.20 282.6 205.84 283.1 205.42 283.6 204.90 284.1 204.24 284.6 203.44 285.1 202.50 285.6 201.47 286.1 200.34 286.6 199.13 287.1 197.82 287.6 196.44 288.1 194.97 288.6 193.39 289.1 191.57 289.6 189.33 290.1 186.43 290.6 182.60 291.1 177.56 291.6 171.04 292.1 162.81 292.6 152.73 293.1 140.82 293.6 127.31 294.1 112.64 294.6 97.47 295.1 82.59 295.6 68.89 296.1 57.27 296.6 48.54 297.1 43.32 297.6 41.99 298.1 44.59 298.6 50.85 299.1 60.22 299.6 71.89 300.1 84.94 300.6 98.42 301.1 111.52 301.6 123.65 302.1 134.47 302.6 143.88 303.1 152.04 303.6 159.23 304.1 165.78 304.6 171.93 305.1 177.84 305.6 183.47 306.1 188.73 306.6 193.45 307.1 197.49 307.6 200.77 308.1 203.28 308.6 205.06 309.1 206.24 309.6 206.96 310.1 207.36 310.6 207.58 311.1 207.68 311.6 207.71 312.1 207.66 312.6 207.52 313.1 207.29 313.6 206.95 314.1 206.49 314.6 205.89 315.1 205.07 315.6 203.99 316.1 202.62 316.6 201.00 317.1 199.24 317.6 197.54 318.1 196.12 318.6 195.23 319.1 195.04 319.6 195.58 320.1 196.77 320.6 198.38 321.1 200.17 321.6 201.91 322.1 203.44 322.6 204.70 323.1 205.63 323.6 206.27 324.1 206.66 324.6 206.88 325.1 207.00 325.6 207.08 326.1 207.15 326.6 207.21 327.1 207.24 327.6 207.26 328.1 207.27 328.6 207.30 329.1 207.36 329.6 207.42 330.1 207.46 330.6 207.43 331.1 207.33 331.6 207.18 332.1 207.02 332.6 206.86 333.1 206.72 333.6 206.59 334.1 206.47 334.6 206.32 335.1 206.13 335.6 205.91 336.1 205.66 336.6 205.42 337.1 205.22 337.6 205.07 338.1 204.98 338.6 204.94 339.1 204.94 339.6 204.98 340.1 205.06 340.6 205.18 341.1 205.33 341.6 205.50 342.1 205.68 342.6 205.90 343.1 206.14 343.6 206.40 344.1 206.65 344.6 206.88 345.1 207.09 345.6 207.28 346.1 207.44 346.6 207.55 347.1 207.59 347.6 207.55 348.1 207.45 348.6 207.34 349.1 207.26 349.6 207.24 350.1 207.30 350.6 207.40 351.1 207.51 351.6 207.58 352.1 207.61 352.6 207.59 353.1 207.54 353.6 207.49 354.1 207.46 354.6 207.46 355.1 207.51 355.6 207.57 356.1 207.64 356.6 207.67 357.1 207.65 357.6 207.60 358.1 207.55 358.6 207.54 359.1 207.59 359.6 207.68 360.1 207.77 360.6 207.83 361.1 207.83 361.6 207.80 362.1 207.77 362.6 207.77 363.1 207.80 363.6 207.85 364.1 207.87 364.6 207.84 365.1 207.75 365.6 207.62 366.1 207.50 366.6 207.42 367.1 207.37 367.6 207.34 368.1 207.31 368.6 207.28 369.1 207.28 369.6 207.31 370.1 207.40 370.6 207.52 371.1 207.63 371.6 207.71 372.1 207.73"/>
<path class="c" stroke="#111111" style="stroke-width:2.1px" d="M42.6 358.18 43.1 358.28 43.6 358.40 44.1 358.49 44.6 358.52 45.1 358.51 45.6 358.49 46.1 358.48 46.6 358.48 47.1 358.50 47.6 358.52 48.1 358.57 48.6 358.64 49.1 358.75 49.6 358.86 50.1 358.95 50.6 359.01 51.1 359.02 51.6 358.98 52.1 358.88 52.6 358.71 53.1 358.47 53.6 358.13 54.1 357.69 54.6 357.17 55.1 356.62 55.6 356.15 56.1 355.83 56.6 355.74 57.1 355.89 57.6 356.26 58.1 356.77 58.6 357.36 59.1 357.93 59.6 358.43 60.1 358.82 60.6 359.08 61.1 359.20 61.6 359.21 62.1 359.13 62.6 359.00 63.1 358.87 63.6 358.77 64.1 358.72 64.6 358.72 65.1 358.73 65.6 358.70 66.1 358.62 66.6 358.49 67.1 358.33 67.6 358.21 68.1 358.15 68.6 358.15 69.1 358.17 69.6 358.18 70.1 358.14 70.6 358.05 71.1 357.93 71.6 357.80 72.1 357.66 72.6 357.50 73.1 357.31 73.6 357.09 74.1 356.85 74.6 356.59 75.1 356.29 75.6 355.93 76.1 355.44 76.6 354.74 77.1 353.76 77.6 352.45 78.1 350.78 78.6 348.76 79.1 346.46 79.6 343.94 80.1 341.33 80.6 338.83 81.1 336.63 81.6 334.97 82.1 334.02 82.6 333.88 83.1 334.52 83.6 335.87 84.1 337.76 84.6 340.05 85.1 342.57 85.6 345.17 86.1 347.72 86.6 350.08 87.1 352.16 87.6 353.89 88.1 355.26 88.6 356.29 89.1 357.05 89.6 357.60 90.1 357.98 90.6 358.24 91.1 358.39 91.6 358.42 92.1 358.33 92.6 358.12 93.1 357.84 93.6 357.54 94.1 357.26 94.6 357.06 95.1 356.95 95.6 356.93 96.1 356.98 96.6 357.10 97.1 357.27 97.6 357.48 98.1 357.72 98.6 357.97 99.1 358.22 99.6 358.44 100.1 358.61 100.6 358.70 101.1 358.74 101.6 358.73 102.1 358.70 102.6 358.64 103.1 358.55 103.6 358.43 104.1 358.29 104.6 358.16 105.1 358.03 105.6 357.87 106.1 357.65 106.6 357.34 107.1 356.97 107.6 356.57 108.1 356.19 108.6 355.86 109.1 355.62 109.6 355.48 110.1 355.45 110.6 355.54 111.1 355.74 111.6 356.03 112.1 356.35 112.6 356.69 113.1 357.00 113.6 357.28 114.1 357.51 114.6 357.72 115.1 357.93 115.6 358.15 116.1 358.36 116.6 358.55 117.1 358.68 117.6 358.74 118.1 358.76 118.6 358.75 119.1 358.75 119.6 358.76 120.1 358.79 120.6 358.80 121.1 358.75 121.6 358.59 122.1 358.30 122.6 357.87 123.1 357.33 123.6 356.73 124.1 356.13 124.6 355.58 125.1 355.07 125.6 354.56 126.1 353.96 126.6 353.20 127.1 352.28 127.6 351.26 128.1 350.27 128.6 349.46 129.1 349.00 129.6 348.98 130.1 349.47 130.6 350.40 131.1 351.66 131.6 353.09 132.1 354.54 132.6 355.90 133.1 357.06 133.6 357.97 134.1 358.57 134.6 358.88 135.1 358.93 135.6 358.80 136.1 358.59 136.6 358.34 137.1 358.07 137.6 357.76 138.1 357.38 138.6 356.95 139.1 356.47 139.6 355.95 140.1 355.37 140.6 354.69 141.1 353.92 141.6 353.10 142.1 352.28 142.6 351.53 143.1 350.86 143.6 350.28 144.1 349.73 144.6 349.10 145.1 348.26 145.6 347.07 146.1 345.44 146.6 343.34 147.1 340.91 147.6 338.42 148.1 336.21 148.6 334.54 149.1 333.49 149.6 332.90 150.1 332.49 150.6 331.99 151.1 331.28 151.6 330.45 152.1 329.72 152.6 329.34 153.1 329.52 153.6 330.34 154.1 331.81 154.6 333.82 155.1 336.22 155.6 338.86 156.1 341.61 156.6 344.36 157.1 347.04 157.6 349.56 158.1 351.83 158.6 353.76 159.1 355.30 159.6 356.46 160.1 357.29 160.6 357.81 161.1 358.06 161.6 358.03 162.1 357.71 162.6 357.12 163.1 356.27 163.6 355.26 164.1 354.22 164.6 353.32 165.1 352.75 165.6 352.61 166.1 352.92 166.6 353.63 167.1 354.62 167.6 355.73 168.1 356.80 168.6 357.70 169.1 358.34 169.6 358.70 170.1 358.84 170.6 358.85 171.1 358.81 171.6 358.78 172.1 358.79 172.6 358.83 173.1 358.92 173.6 359.03 174.1 359.15 174.6 359.26 175.1 359.32 175.6 359.32 176.1 359.26 176.6 359.20 177.1 359.17 177.6 359.19 178.1 359.23 178.6 359.23 179.1 359.13 179.6 358.89 180.1 358.49 180.6 357.95 181.1 357.28 181.6 356.45 182.1 355.45 182.6 354.25 183.1 352.87 183.6 351.37 184.1 349.86 184.6 348.45 185.1 347.22 185.6 346.25 186.1 345.59 186.6 345.27 187.1 345.25 187.6 345.42 188.1 345.56 188.6 345.37 189.1 344.54 189.6 342.74 190.1 339.68 190.6 335.14 191.1 329.02 191.6 321.36 192.1 312.38 192.6 302.53 193.1 292.46 193.6 282.97 194.1 274.94 194.6 269.20 195.1 266.36 195.6 266.75 196.1 270.29 196.6 276.56 197.1 284.81 197.6 294.13 198.1 303.57 198.6 312.26 199.1 319.46 199.6 324.68 200.1 327.67 200.6 328.47 201.1 327.40 201.6 325.00 202.1 321.99 202.6 319.12 203.1 317.06 203.6 316.31 204.1 317.07 204.6 319.26 205.1 322.55 205.6 326.40 206.1 330.24 206.6 333.59 207.1 336.14 207.6 337.81 208.1 338.65 208.6 338.81 209.1 338.46 209.6 337.81 210.1 337.02 210.6 336.26 211.1 335.68 211.6 335.34 212.1 335.28 212.6 335.50 213.1 335.95 213.6 336.61 214.1 337.47 214.6 338.56 215.1 339.88 215.6 341.42 216.1 343.12 216.6 344.88 217.1 346.62 217.6 348.29 218.1 349.87 218.6 351.37 219.1 352.76 219.6 354.00 220.1 355.01 220.6 355.79 221.1 356.36 221.6 356.76 222.1 357.03 222.6 357.16 223.1 357.10 223.6 356.81 224.1 356.23 224.6 355.37 225.1 354.32 225.6 353.26 226.1 352.37 226.6 351.78 227.1 351.51 227.6 351.39 228.1 351.22 228.6 350.80 229.1 350.04 229.6 348.94 230.1 347.65 230.6 346.41 231.1 345.47 231.6 345.06 232.1 345.32 232.6 346.24 233.1 347.69 233.6 349.46 234.1 351.31 234.6 353.06 235.1 354.58 235.6 355.79 236.1 356.65 236.6 357.12 237.1 357.14 237.6 356.64 238.1 355.54 238.6 353.75 239.1 351.27 239.6 348.16 240.1 344.56 240.6 340.71 241.1 336.94 241.6 333.65 242.1 331.26 242.6 330.11 243.1 330.37 243.6 331.98 244.1 334.64 244.6 337.89 245.1 341.24 245.6 344.30 246.1 346.82 246.6 348.72 247.1 350.09 247.6 351.10 248.1 351.95 248.6 352.78 249.1 353.69 249.6 354.66 250.1 355.64 250.6 356.53 251.1 357.26 251.6 357.78 252.1 358.12 252.6 358.30 253.1 358.34 253.6 358.25 254.1 358.00 254.6 357.57 255.1 356.97 255.6 356.23 256.1 355.41 256.6 354.59 257.1 353.83 257.6 353.21 258.1 352.79 258.6 352.63 259.1 352.74 259.6 353.12 260.1 353.71 260.6 354.41 261.1 355.14 261.6 355.84 262.1 356.47 262.6 357.01 263.1 357.47 263.6 357.83 264.1 358.09 264.6 358.24 265.1 358.30 265.6 358.30 266.1 358.24 266.6 358.12 267.1 357.90 267.6 357.52 268.1 356.89 268.6 355.96 269.1 354.69 269.6 353.10 270.1 351.28 270.6 349.37 271.1 347.56 271.6 346.01 272.1 344.90 272.6 344.34 273.1 344.42 273.6 345.12 274.1 346.33 274.6 347.90 275.1 349.66 275.6 351.46 276.1 353.18 276.6 354.72 277.1 356.00 277.6 356.96 278.1 357.62 278.6 358.05 279.1 358.30 279.6 358.45 280.1 358.54 280.6 358.58 281.1 358.58 281.6 358.53 282.1 358.44 282.6 358.30 283.1 358.12 283.6 357.87 284.1 357.50 284.6 356.95 285.1 356.23 285.6 355.40 286.1 354.52 286.6 353.66 287.1 352.87 287.6 352.13 288.1 351.45 288.6 350.77 289.1 349.99 289.6 348.92 290.1 347.28 290.6 344.76 291.1 341.07 291.6 335.95 292.1 329.22 292.6 320.77 293.1 310.60 293.6 298.88 294.1 285.93 294.6 272.28 295.1 258.61 295.6 245.75 296.1 234.58 296.6 225.94 297.1 220.52 297.6 218.76 298.1 220.78 298.6 226.37 299.1 235.05 299.6 246.11 300.1 258.68 300.6 271.85 301.1 284.75 301.6 296.66 302.1 307.03 302.6 315.60 303.1 322.36 303.6 327.55 304.1 331.57 304.6 334.88 305.1 337.90 305.6 340.87 306.1 343.90 306.6 346.90 307.1 349.74 307.6 352.25 308.1 354.29 308.6 355.80 309.1 356.82 309.6 357.39 310.1 357.59 310.6 357.48 311.1 357.07 311.6 356.35 312.1 355.31 312.6 353.93 313.1 352.22 313.6 350.20 314.1 347.91 314.6 345.43 315.1 342.87 315.6 340.38 316.1 338.07 316.6 336.08 317.1 334.55 317.6 333.61 318.1 333.35 318.6 333.80 319.1 334.93 319.6 336.65 320.1 338.82 320.6 341.24 321.1 343.69 321.6 345.97 322.1 347.87 322.6 349.27 323.1 350.11 323.6 350.45 324.1 350.44 324.6 350.30 325.1 350.26 325.6 350.50 326.1 351.07 326.6 351.94 327.1 353.01 327.6 354.19 328.1 355.36 328.6 356.44 329.1 357.35 329.6 358.05 330.1 358.52 330.6 358.75 331.1 358.82 331.6 358.79 332.1 358.73 332.6 358.67 333.1 358.62 333.6 358.55 334.1 358.45 334.6 358.32 335.1 358.17 335.6 358.05 336.1 357.99 336.6 358.00 337.1 358.07 337.6 358.14 338.1 358.19 338.6 358.19 339.1 358.18 339.6 358.20 340.1 358.30 340.6 358.49 341.1 358.76 341.6 359.03 342.1 359.25 342.6 359.37 343.1 359.41 343.6 359.40 344.1 359.39 344.6 359.41 345.1 359.45 345.6 359.51 346.1 359.55 346.6 359.56 347.1 359.55 347.6 359.53 348.1 359.49 348.6 359.44 349.1 359.36 349.6 359.28 350.1 359.21 350.6 359.15 351.1 359.08 351.6 358.99 352.1 358.90 352.6 358.83 353.1 358.81 353.6 358.85 354.1 358.95 354.6 359.07 355.1 359.19 355.6 359.26 356.1 359.29 356.6 359.27 357.1 359.21 357.6 359.12 358.1 359.04 358.6 358.98 359.1 358.96 359.6 358.97 360.1 358.99 360.6 359.01 361.1 359.03 361.6 359.06 362.1 359.13 362.6 359.24 363.1 359.40 363.6 359.59 364.1 359.78 364.6 359.90 365.1 359.93 365.6 359.85 366.1 359.70 366.6 359.50 367.1 359.29 367.6 359.09 368.1 358.91 368.6 358.75 369.1 358.64 369.6 358.58 370.1 358.60 370.6 358.68 371.1 358.81 371.6 358.93 372.1 359.01"/>
<path class="c" stroke="#cc1c24" style="stroke-width:2.1px" d="M42.6 358.81 43.1 358.76 43.6 358.72 44.1 358.70 44.6 358.70 45.1 358.69 45.6 358.68 46.1 358.65 46.6 358.62 47.1 358.60 47.6 358.61 48.1 358.69 48.6 358.81 49.1 358.94 49.6 359.02 50.1 359.00 50.6 358.88 51.1 358.69 51.6 358.50 52.1 358.34 52.6 358.24 53.1 358.17 53.6 358.13 54.1 358.11 54.6 358.10 55.1 358.09 55.6 358.04 56.1 357.96 56.6 357.86 57.1 357.81 57.6 357.84 58.1 357.98 58.6 358.23 59.1 358.55 59.6 358.88 60.1 359.17 60.6 359.36 61.1 359.43 61.6 359.40 62.1 359.29 62.6 359.19 63.1 359.11 63.6 359.06 64.1 359.03 64.6 358.98 65.1 358.92 65.6 358.86 66.1 358.82 66.6 358.80 67.1 358.80 67.6 358.79 68.1 358.76 68.6 358.71 69.1 358.63 69.6 358.51 70.1 358.35 70.6 358.15 71.1 357.93 71.6 357.75 72.1 357.61 72.6 357.52 73.1 357.43 73.6 357.30 74.1 357.07 74.6 356.73 75.1 356.24 75.6 355.59 76.1 354.77 76.6 353.74 77.1 352.47 77.6 350.95 78.1 349.15 78.6 347.10 79.1 344.84 79.6 342.45 80.1 340.02 80.6 337.70 81.1 335.65 81.6 334.04 82.1 333.04 82.6 332.75 83.1 333.22 83.6 334.42 84.1 336.26 84.6 338.59 85.1 341.22 85.6 343.95 86.1 346.59 86.6 349.02 87.1 351.16 87.6 352.97 88.1 354.46 88.6 355.64 89.1 356.53 89.6 357.19 90.1 357.67 90.6 358.00 91.1 358.21 91.6 358.28 92.1 358.22 92.6 358.06 93.1 357.84 93.6 357.60 94.1 357.39 94.6 357.19 95.1 357.02 95.6 356.87 96.1 356.75 96.6 356.67 97.1 356.66 97.6 356.71 98.1 356.85 98.6 357.07 99.1 357.35 99.6 357.67 100.1 357.97 100.6 358.22 101.1 358.39 101.6 358.45 102.1 358.42 102.6 358.29 103.1 358.09 103.6 357.84 104.1 357.54 104.6 357.24 105.1 356.95 105.6 356.68 106.1 356.46 106.6 356.28 107.1 356.13 107.6 356.01 108.1 355.88 108.6 355.74 109.1 355.60 109.6 355.49 110.1 355.43 110.6 355.45 111.1 355.58 111.6 355.81 112.1 356.14 112.6 356.50 113.1 356.86 113.6 357.18 114.1 357.45 114.6 357.69 115.1 357.92 115.6 358.16 116.1 358.42 116.6 358.67 117.1 358.84 117.6 358.91 118.1 358.87 118.6 358.74 119.1 358.58 119.6 358.45 120.1 358.36 120.6 358.32 121.1 358.28 121.6 358.20 122.1 358.00 122.6 357.66 123.1 357.16 123.6 356.52 124.1 355.82 124.6 355.13 125.1 354.52 125.6 353.97 126.1 353.42 126.6 352.78 127.1 351.97 127.6 350.97 128.1 349.86 128.6 348.82 129.1 348.05 129.6 347.77 130.1 348.11 130.6 349.05 131.1 350.47 131.6 352.13 132.1 353.78 132.6 355.22 133.1 356.33 133.6 357.08 134.1 357.53 134.6 357.78 135.1 357.91 135.6 358.00 136.1 358.07 136.6 358.09 137.1 358.05 137.6 357.91 138.1 357.65 138.6 357.27 139.1 356.75 139.6 356.08 140.1 355.26 140.6 354.29 141.1 353.23 141.6 352.16 142.1 351.18 142.6 350.35 143.1 349.69 143.6 349.13 144.1 348.59 144.6 347.96 145.1 347.14 145.6 345.95 146.1 344.23 146.6 341.90 147.1 339.03 147.6 335.98 148.1 333.22 148.6 331.16 149.1 329.94 149.6 329.36 150.1 329.04 150.6 328.66 151.1 328.07 151.6 327.35 152.1 326.72 152.6 326.42 153.1 326.65 153.6 327.53 154.1 329.09 154.6 331.26 155.1 333.92 155.6 336.90 156.1 340.01 156.6 343.08 157.1 345.96 157.6 348.57 158.1 350.86 158.6 352.79 159.1 354.31 159.6 355.42 160.1 356.12 160.6 356.43 161.1 356.38 161.6 356.01 162.1 355.33 162.6 354.41 163.1 353.34 163.6 352.27 164.1 351.40 164.6 350.90 165.1 350.86 165.6 351.28 166.1 352.08 166.6 353.13 167.1 354.27 167.6 355.37 168.1 356.32 168.6 357.05 169.1 357.50 169.6 357.63 170.1 357.46 170.6 357.07 171.1 356.68 171.6 356.49 172.1 356.63 172.6 357.04 173.1 357.60 173.6 358.15 174.1 358.59 174.6 358.91 175.1 359.10 175.6 359.19 176.1 359.19 176.6 359.11 177.1 358.96 177.6 358.76 178.1 358.51 178.6 358.20 179.1 357.82 179.6 357.32 180.1 356.67 180.6 355.83 181.1 354.81 181.6 353.64 182.1 352.34 182.6 350.96 183.1 349.56 183.6 348.21 184.1 347.01 184.6 346.03 185.1 345.30 185.6 344.84 186.1 344.61 186.6 344.57 187.1 344.59 187.6 344.48 188.1 343.99 188.6 342.83 189.1 340.70 189.6 337.33 190.1 332.53 190.6 326.23 191.1 318.50 191.6 309.57 192.1 299.82 192.6 289.80 193.1 280.13 193.6 271.53 194.1 264.71 194.6 260.30 195.1 258.78 195.6 260.30 196.1 264.71 196.6 271.54 197.1 280.06 197.6 289.44 198.1 298.80 198.6 307.31 199.1 314.25 199.6 319.07 200.1 321.45 200.6 321.41 201.1 319.27 201.6 315.70 202.1 311.61 202.6 307.95 203.1 305.52 203.6 304.86 204.1 306.10 204.6 309.00 205.1 313.07 205.6 317.66 206.1 322.14 206.6 326.00 207.1 328.91 207.6 330.77 208.1 331.68 208.6 331.81 209.1 331.40 209.6 330.69 210.1 329.89 210.6 329.19 211.1 328.73 211.6 328.62 212.1 328.88 212.6 329.51 213.1 330.47 213.6 331.72 214.1 333.20 214.6 334.86 215.1 336.63 215.6 338.48 216.1 340.36 216.6 342.27 217.1 344.19 217.6 346.09 218.1 347.96 218.6 349.73 219.1 351.36 219.6 352.82 220.1 354.09 220.6 355.19 221.1 356.12 221.6 356.84 222.1 357.34 222.6 357.56 223.1 357.47 223.6 357.00 224.1 356.12 224.6 354.89 225.1 353.45 225.6 352.06 226.1 350.97 226.6 350.33 227.1 350.12 227.6 350.13 228.1 350.12 228.6 349.82 229.1 349.14 229.6 348.10 230.1 346.84 230.6 345.62 231.1 344.66 231.6 344.18 232.1 344.31 232.6 345.08 233.1 346.39 233.6 348.09 234.1 349.98 234.6 351.89 235.1 353.65 235.6 355.13 236.1 356.19 236.6 356.74 237.1 356.67 237.6 355.91 238.1 354.39 238.6 352.12 239.1 349.17 239.6 345.66 240.1 341.77 240.6 337.79 241.1 334.06 241.6 331.02 242.1 329.07 242.6 328.49 243.1 329.34 243.6 331.46 244.1 334.51 244.6 338.02 245.1 341.51 245.6 344.61 246.1 347.08 246.6 348.89 247.1 350.15 247.6 351.08 248.1 351.89 248.6 352.74 249.1 353.71 249.6 354.75 250.1 355.78 250.6 356.66 251.1 357.32 251.6 357.75 252.1 357.97 252.6 358.03 253.1 357.97 253.6 357.80 254.1 357.50 254.6 357.05 255.1 356.43 255.6 355.63 256.1 354.72 256.6 353.78 257.1 352.91 257.6 352.23 258.1 351.80 258.6 351.65 259.1 351.81 259.6 352.26 260.1 352.98 260.6 353.89 261.1 354.91 261.6 355.91 262.1 356.80 262.6 357.51 263.1 358.03 263.6 358.38 264.1 358.59 264.6 358.70 265.1 358.71 265.6 358.67 266.1 358.59 266.6 358.46 267.1 358.21 267.6 357.77 268.1 357.06 268.6 356.03 269.1 354.67 269.6 353.01 270.1 351.11 270.6 349.09 271.1 347.11 271.6 345.36 272.1 344.05 272.6 343.33 273.1 343.29 273.6 343.93 274.1 345.17 274.6 346.88 275.1 348.86 275.6 350.92 276.1 352.88 276.6 354.57 277.1 355.93 277.6 356.94 278.1 357.66 278.6 358.13 279.1 358.40 279.6 358.53 280.1 358.54 280.6 358.45 281.1 358.31 281.6 358.13 282.1 357.91 282.6 357.64 283.1 357.28 283.6 356.79 284.1 356.14 284.6 355.38 285.1 354.53 285.6 353.63 286.1 352.69 286.6 351.71 287.1 350.70 287.6 349.64 288.1 348.52 288.6 347.27 289.1 345.79 289.6 343.90 290.1 341.40 290.6 338.01 291.1 333.48 291.6 327.59 292.1 320.19 292.6 311.22 293.1 300.76 293.6 289.01 294.1 276.37 294.6 263.38 295.1 250.72 295.6 239.13 296.1 229.33 296.6 221.98 297.1 217.61 297.6 216.54 298.1 218.85 298.6 224.30 299.1 232.41 299.6 242.47 300.1 253.66 300.6 265.21 301.1 276.43 301.6 286.83 302.1 296.12 302.6 304.26 303.1 311.36 303.6 317.66 304.1 323.40 304.6 328.75 305.1 333.81 305.6 338.54 306.1 342.90 306.6 346.78 307.1 350.10 307.6 352.81 308.1 354.88 308.6 356.38 309.1 357.40 309.6 358.06 310.1 358.46 310.6 358.68 311.1 358.77 311.6 358.78 312.1 358.74 312.6 358.63 313.1 358.46 313.6 358.16 314.1 357.71 314.6 357.06 315.1 356.20 315.6 355.11 316.1 353.81 316.6 352.35 317.1 350.83 317.6 349.41 318.1 348.29 318.6 347.65 319.1 347.62 319.6 348.18 320.1 349.24 320.6 350.61 321.1 352.09 321.6 353.53 322.1 354.83 322.6 355.93 323.1 356.83 323.6 357.51 324.1 357.99 324.6 358.30 325.1 358.50 325.6 358.63 326.1 358.71 326.6 358.76 327.1 358.76 327.6 358.72 328.1 358.62 328.6 358.48 329.1 358.31 329.6 358.14 330.1 358.00 330.6 357.93 331.1 357.90 331.6 357.91 332.1 357.93 332.6 357.92 333.1 357.87 333.6 357.79 334.1 357.69 334.6 357.60 335.1 357.53 335.6 357.47 336.1 357.40 336.6 357.28 337.1 357.10 337.6 356.91 338.1 356.74 338.6 356.64 339.1 356.63 339.6 356.69 340.1 356.80 340.6 356.97 341.1 357.20 341.6 357.49 342.1 357.80 342.6 358.08 343.1 358.29 343.6 358.40 344.1 358.42 344.6 358.41 345.1 358.41 345.6 358.45 346.1 358.53 346.6 358.64 347.1 358.74 347.6 358.83 348.1 358.87 348.6 358.86 349.1 358.79 349.6 358.72 350.1 358.68 350.6 358.72 351.1 358.81 351.6 358.93 352.1 359.03 352.6 359.12 353.1 359.19 353.6 359.25 354.1 359.32 354.6 359.37 355.1 359.39 355.6 359.37 356.1 359.32 356.6 359.26 357.1 359.19 357.6 359.13 358.1 359.08 358.6 359.04 359.1 358.99 359.6 358.94 360.1 358.86 360.6 358.77 361.1 358.69 361.6 358.64 362.1 358.63 362.6 358.63 363.1 358.62 363.6 358.58 364.1 358.51 364.6 358.43 365.1 358.39 365.6 358.40 366.1 358.50 366.6 358.65 367.1 358.82 367.6 358.99 368.1 359.13 368.6 359.24 369.1 359.30 369.6 359.30 370.1 359.25 370.6 359.15 371.1 359.05 371.6 358.98 372.1 358.96"/>
<text x="26" y="9.6" class="b" style="font-size:8.3px">A</text>
<text x="26" y="229.6" class="b" style="font-size:8.3px">B</text>
<text x="268" y="343" class="b" text-anchor="middle" style="font-size:10px">*</text>
<text x="8.3" y="206.3" transform="rotate(-90 8.3 206.3)" class="b" text-anchor="middle" style="font-size:10.2px">Intensity</text>
<text x="176.6" y="397.2" class="b" style="font-size:9.88px">Raman Shift (cm<tspan dy="-3.5" style="font-size:6.5px">-1</tspan><tspan dy="3.5">)</tspan></text>
</svg>
</body></html>
